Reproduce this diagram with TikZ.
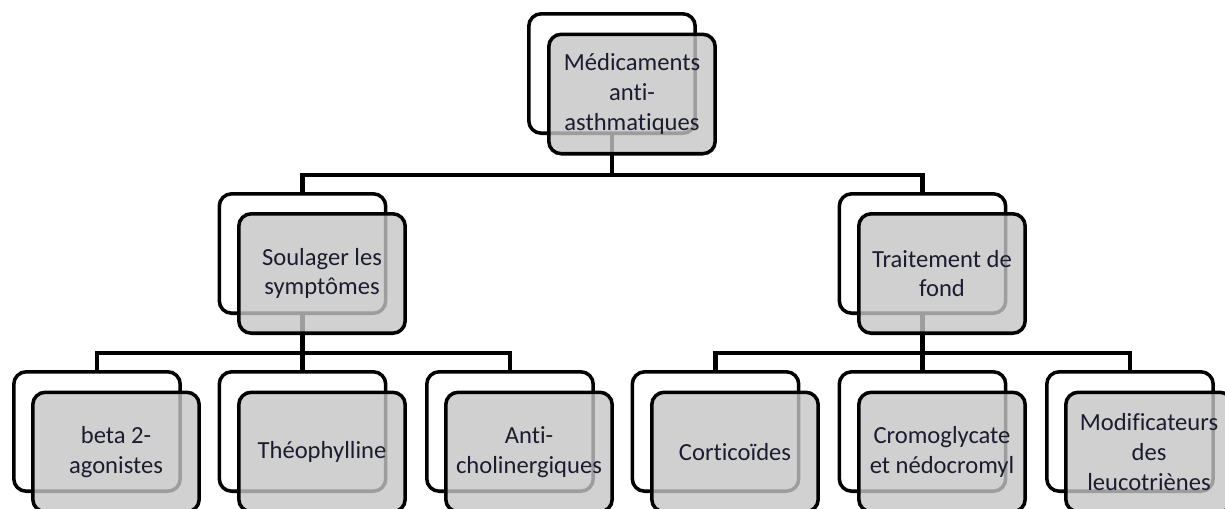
\documentclass[tikz,border=0pt]{standalone}
\usepackage{fontspec}
\setmainfont{Carlito}[Ligatures={NoCommon}]
\definecolor{boxgray}{RGB}{197,197,197}
\definecolor{inkblue}{RGB}{28,28,48}

\begin{document}
\begin{tikzpicture}[x=0.02cm, y=-0.02cm,
    back/.style={draw, line width=2pt, rounded corners=0.25cm, fill=white,
      minimum width=3.33cm, minimum height=2.39cm, inner sep=0pt},
    front/.style={back, fill=boxgray, fill opacity=0.8, text opacity=1,
      text=inkblue, align=center, font=\fontsize{14}{17}\selectfont},
    link/.style={line width=2.6pt}]
    \useasboundingbox (0,0) rectangle (1225,508);
    \clip (0,0) rectangle (1225,508);
    % back boxes
    \node[back] (medB) at (612,73.5) {};
    \node[back] (soulB) at (302.5,253.5) {};
    \node[back] (traitB) at (922.5,253.5) {};
    \node[back] (betaB) at (97,431.5) {};
    \node[back] (theoB) at (302.5,431.5) {};
    \node[back] (antiB) at (510,431.5) {};
    \node[back] (cortB) at (715.5,431.5) {};
    \node[back] (cromB) at (922.5,431.5) {};
    \node[back] (modifB) at (1130,431.5) {};

    % connectors
    \draw[link] (medB.south) -- ++(0,40) -| (soulB.north);
    \draw[link] (medB.south) -- ++(0,40) -| (traitB.north);
    \draw[link] (soulB.south) -- ++(0,38) -| (betaB.north);
    \draw[link] (soulB.south) -- ++(0,38) -| (theoB.north);
    \draw[link] (soulB.south) -- ++(0,38) -| (antiB.north);
    \draw[link] (traitB.south) -- ++(0,38) -| (cortB.north);
    \draw[link] (traitB.south) -- ++(0,38) -| (cromB.north);
    \draw[link] (traitB.south) -- ++(0,38) -| (modifB.north);

    % front boxes
    \node[front] (med) at (632,94) {Médicaments\\anti-\\asthmatiques};
    \node[front] (soul) at (322,273.5) {Soulager les\\symptômes};
    \node[front] (trait) at (942,273.5) {Traitement de\\fond};
    \node[front] (beta) at (116,452) {beta 2-\\agonistes};
    \node[front] (theo) at (322,452) {Théophylline};
    \node[front] (anti) at (529,452) {Anti-\\cholinergiques};
    \node[front] (cort) at (735,452) {Corticoïdes};
    \node[front] (crom) at (942,452) {Cromoglycate\\et nédocromyl};
    \node[front] (modif) at (1149,452) {Modificateurs\\des\\leucotriènes};
\end{tikzpicture}
\end{document}
